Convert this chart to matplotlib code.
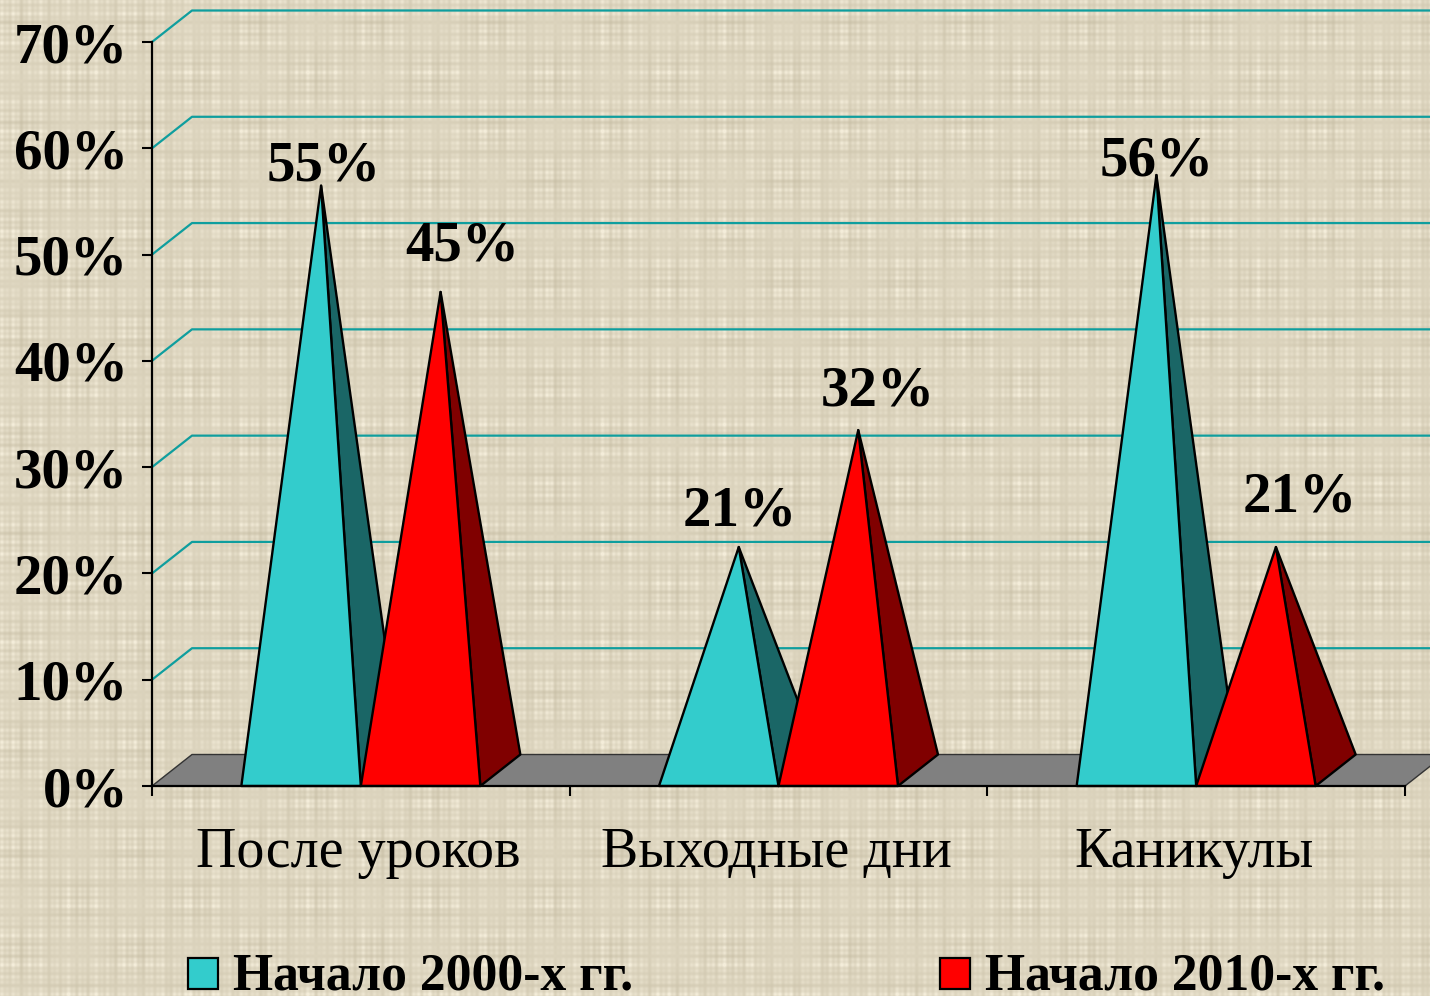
import numpy as np
import matplotlib
matplotlib.use('Agg')
import matplotlib.pyplot as plt
from matplotlib.patches import Rectangle

# Datos
categorias = ['После уроков', 'Выходные дни', 'Каникулы']
inicio_2000 = [55, 21, 56]
inicio_2010 = [45, 32, 21]
etiquetas_y = ['0%', '10%', '20%', '30%', '40%', '50%', '60%', '70%']
valores_y = [0, 10, 20, 30, 40, 50, 60, 70]
series = ['Начало 2000-х гг.', 'Начало 2010-х гг.']

W, H = 1430, 996
plt.rcParams['font.family'] = ['Liberation Serif', 'DejaVu Serif']

fig = plt.figure(figsize=(W / 100, H / 100), dpi=100)

# Fondo de tela (trama a cuadros fina)
fondo = fig.add_axes([0, 0, 1, 1], zorder=0)
px, py = np.meshgrid(np.arange(W), np.arange(H))
hilos_x = np.sin(px * 1.13) * 0.6 + np.sin(px * 0.47 + 1) * 0.6 + np.sin(px * 0.211) * 0.4
hilos_y = np.sin(py * 1.07) * 0.6 + np.sin(py * 0.43 + 2) * 0.6 + np.sin(py * 0.197) * 0.4
parches = 0.65 + 0.35 * np.sin(px * 0.053 + 0.7) * np.sin(py * 0.061)
trama = (hilos_x + hilos_y) * parches + 0.3 * hilos_x * hilos_y
trama = np.clip(trama / 2.6, -1, 1)
base = np.array([222, 214, 192])
amplitud = np.array([22, 23, 26])
textura = (base + trama[..., None] * amplitud).astype(np.uint8)
fondo.imshow(textura, aspect='auto', interpolation='bilinear')
fondo.axis('off')

# Ejes: el frente del grafico 3D
ax = fig.add_axes([152 / W, 1 - 786 / H, (1405 - 152) / W, (786 - 42) / H], zorder=1)
ax.patch.set_alpha(0)
ax.set_xlim(0, 3)
ax.set_ylim(0, 70)

px_x = 1253 / 3
px_y = 744 / 70
dx = 40 / px_x
dy = 31.5 / px_y
ancho = 119.5 / px_x
xmax = 3 + dx

# Suelo
ax.fill([0, dx, xmax, 3], [0, dy, dy, 0], facecolor='#808080', edgecolor='#333333',
        linewidth=1, clip_on=False, zorder=1)

# Rejilla con su tramo lateral
for v in valores_y[1:]:
    ax.plot([0, dx, xmax], [v, v + dy, v + dy], color='#0f9e9e', linewidth=1.6,
            clip_on=False, zorder=1, solid_capstyle='butt')


def piramide(x0, valor, frente, lado):
    x1 = x0 + ancho
    punta_x = (x0 + x1) / 2 + dx / 2
    punta_y = valor + dy / 2
    ax.fill([x1, x1 + dx, punta_x], [0, dy, punta_y], facecolor=lado, edgecolor='black',
            linewidth=1.7, clip_on=False, zorder=3, joinstyle='round')
    ax.fill([x0, x1, punta_x], [0, 0, punta_y], facecolor=frente, edgecolor='black',
            linewidth=1.7, clip_on=False, zorder=3, joinstyle='round')
    return punta_x, punta_y


desplaz_2000 = [(3, 19), (1, 36), (0, 14)]
desplaz_2010 = [(22, 45), (20, 39), (24, 50)]

for i in range(len(categorias)):
    centro = i + 0.5
    xa, ya = piramide(centro - ancho, inicio_2000[i], '#33CCCC', '#1A6666')
    xb, yb = piramide(centro, inicio_2010[i], '#FF0000', '#800000')
    for (xp, yp, val, off) in [(xa, ya, inicio_2000[i], desplaz_2000[i]),
                               (xb, yb, inicio_2010[i], desplaz_2010[i])]:
        ax.annotate(f'{val}%', (xp, yp), xytext=(off[0] * 0.72, off[1] * 0.72),
                    textcoords='offset points', ha='center', va='center',
                    fontsize=41, fontweight='bold', color='black', zorder=5,
                    annotation_clip=False)

# Ejes y marcas
for lado in ['top', 'right']:
    ax.spines[lado].set_visible(False)
for lado in ['left', 'bottom']:
    ax.spines[lado].set_linewidth(1.6)
    ax.spines[lado].set_zorder(4)
ax.set_yticks(valores_y)
ax.set_yticklabels(etiquetas_y, fontsize=41, fontweight='bold')
ax.set_xticks([0, 1, 2, 3])
ax.set_xticklabels([])
ax.tick_params(axis='both', length=7.2, width=1.5, color='black')
ax.tick_params(axis='y', pad=10)
for i, nombre in enumerate(categorias):
    ax.annotate(nombre, (i + 0.5, 0), xytext=(-1.5, -48), textcoords='offset points',
                ha='center', va='center', fontsize=40.3, annotation_clip=False)

# Leyenda
colores = ['#33CCCC', '#FF0000']
for nombre, color, x_cuadro in zip(series, colores, [188, 940]):
    fig.add_artist(Rectangle((x_cuadro / W, 1 - 989 / H), 30 / W, 31 / H, transform=fig.transFigure,
                             facecolor=color, edgecolor='black', linewidth=1.6, zorder=3))
    fig.text((x_cuadro + 45) / W, 1 - 976 / H, nombre, fontsize=37.2, fontweight='bold',
             ha='left', va='center', zorder=3)

plt.savefig('out.png', dpi=100)
